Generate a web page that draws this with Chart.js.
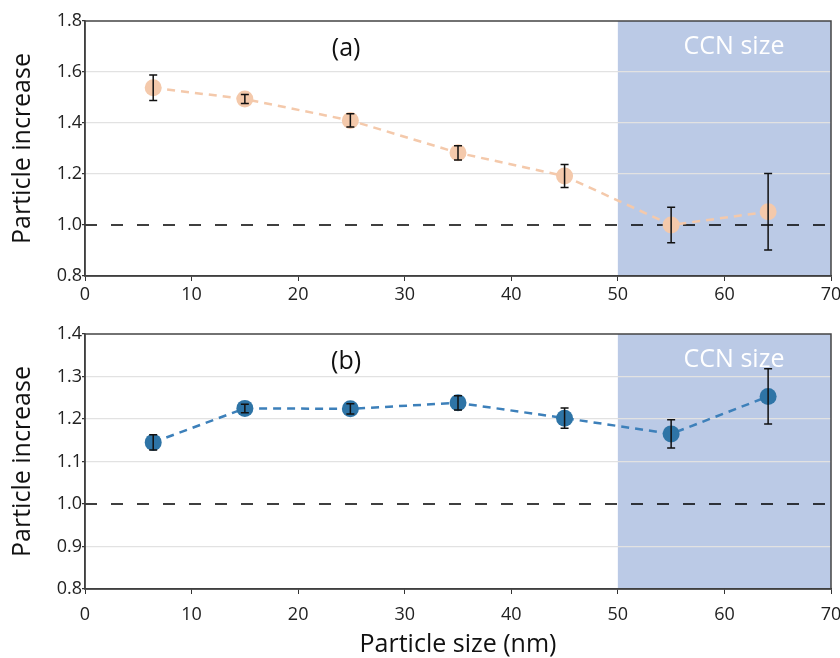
<!DOCTYPE html>
<html>
<head>
<meta charset="utf-8">
<script src="https://cdn.jsdelivr.net/npm/chart.js@4.4.1/dist/chart.umd.min.js"></script>
<style>
  html, body { margin: 0; padding: 0; background: #fff; }
  #wrap { position: relative; width: 840px; height: 658px; }
  #chartA { position: absolute; left: 0; top: 0; }
  #chartB { position: absolute; left: 0; top: 312px; }
</style>
</head>
<body>
<div id="wrap">
  <canvas id="chartA" width="840" height="312"></canvas>
  <canvas id="chartB" width="840" height="346"></canvas>
</div>
<script>
// particle size (nm)
const sizes = [6.4, 15, 24.9, 35, 45, 55, 64.1];

// (a) particle increase and error
const increaseA = [1.538, 1.494, 1.410, 1.283, 1.192, 1.000, 1.052];
const errorA    = [0.050, 0.018, 0.026, 0.028, 0.045, 0.070, 0.150];

// (b) particle increase and error
const increaseB = [1.145, 1.225, 1.224, 1.238, 1.202, 1.165, 1.253];
const errorB    = [0.018, 0.010, 0.012, 0.017, 0.024, 0.033, 0.065];

const xRange = [0, 70];
const yRangeA = [0.8, 1.8];
const yRangeB = [0.8, 1.4];
const ccnRange = [50, 70];
const refValue = 1.0;

const FONT = "'Open Sans', 'DejaVu Sans', sans-serif";

// shaded CCN band, drawn under the grid
const ccnBand = {
  id: 'ccnBand',
  beforeDraw(chart) {
    const { ctx, chartArea, scales } = chart;
    const x0 = scales.x.getPixelForValue(ccnRange[0]);
    const x1 = scales.x.getPixelForValue(ccnRange[1]);
    ctx.save();
    ctx.fillStyle = '#bbcae6';
    ctx.fillRect(x0, chartArea.top, x1 - x0, chartArea.bottom - chartArea.top);
    ctx.restore();
  }
};

// panel letter and "CCN size" text
const panelText = {
  id: 'panelText',
  beforeDatasetsDraw(chart, args, opts) {
    const { ctx, scales } = chart;
    ctx.save();
    ctx.font = '25px ' + FONT;
    ctx.textAlign = 'center';
    ctx.textBaseline = 'middle';
    ctx.fillStyle = '#111';
    ctx.fillText(opts.letter, scales.x.getPixelForValue(opts.letterX), scales.y.getPixelForValue(opts.letterY));
    ctx.fillStyle = '#fff';
    ctx.fillText('CCN size', scales.x.getPixelForValue(opts.ccnX), scales.y.getPixelForValue(opts.ccnY));
    ctx.restore();
  }
};

// error bars on top of the markers
const errorBars = {
  id: 'errorBars',
  afterDatasetsDraw(chart, args, opts) {
    const { ctx, scales } = chart;
    const errs = opts.errors;
    ctx.save();
    ctx.strokeStyle = '#111';
    ctx.lineWidth = 1.5;
    chart.data.datasets[0].data.forEach((p, i) => {
      const x = scales.x.getPixelForValue(p.x);
      const yt = scales.y.getPixelForValue(p.y + errs[i]);
      const yb = scales.y.getPixelForValue(p.y - errs[i]);
      ctx.beginPath();
      ctx.moveTo(x, yt); ctx.lineTo(x, yb);
      ctx.moveTo(x - 4, yt); ctx.lineTo(x + 4, yt);
      ctx.moveTo(x - 4, yb); ctx.lineTo(x + 4, yb);
      ctx.stroke();
    });
    ctx.restore();
  }
};

// frame round the plot area
const frame = {
  id: 'frame',
  afterDraw(chart) {
    const { ctx, chartArea } = chart;
    ctx.save();
    ctx.strokeStyle = '#444';
    ctx.lineWidth = 1.5;
    ctx.strokeRect(chartArea.left, chartArea.top, chartArea.right - chartArea.left, chartArea.bottom - chartArea.top);
    ctx.restore();
  }
};

function makeChart(id, values, errs, yRange, yStep, pointColor, lineColor, opt) {
  const series = sizes.map((s, i) => ({ x: s, y: values[i] }));
  const refLine = xRange.map(x => ({ x: x, y: refValue }));
  const hidden = [yRange[0], yRange[1], refValue];

  return new Chart(document.getElementById(id), {
    type: 'line',
    data: {
      datasets: [{
        data: series,
        borderColor: lineColor,
        borderWidth: 2.5,
        borderDash: [8, 6],
        pointRadius: 8.5,
        pointBackgroundColor: pointColor,
        pointBorderWidth: 0,
        fill: false
      }, {
        data: refLine,
        borderColor: '#000',
        borderWidth: 1.5,
        borderDash: [12, 14],
        pointRadius: 0,
        fill: false
      }]
    },
    plugins: [ccnBand, panelText, errorBars, frame],
    options: {
      responsive: false,
      animation: false,
      layout: { padding: { top: opt.padTop, right: 9, left: 0, bottom: 0 } },
      plugins: {
        legend: { display: false },
        tooltip: { enabled: false },
        errorBars: { errors: errs },
        panelText: opt.text
      },
      scales: {
        x: {
          type: 'linear',
          min: xRange[0],
          max: xRange[1],
          afterFit: s => { s.height = opt.xHeight; s.paddingLeft = 0; s.paddingRight = 0; },
          ticks: {
            stepSize: 10,
            padding: opt.xTickPad,
            color: '#222',
            font: { family: FONT, size: 18 }
          },
          grid: { drawOnChartArea: false, drawTicks: true, tickLength: 5, tickColor: '#333' },
          border: { color: '#333', width: 1.5 },
          title: {
            display: opt.xTitle,
            text: 'Particle size (nm)',
            color: '#111',
            font: { family: FONT, size: 25, lineHeight: 1 },
            padding: { top: 0, bottom: 1 }
          }
        },
        y: {
          min: yRange[0],
          max: yRange[1],
          afterFit: s => { s.width = 85; s.paddingTop = 0; s.paddingBottom = 0; },
          ticks: {
            stepSize: yStep,
            padding: 0,
            color: '#222',
            font: { family: FONT, size: 18 },
            callback: v => v.toFixed(1)
          },
          grid: {
            color: c => hidden.some(h => Math.abs(c.tick.value - h) < 1e-6) ? 'rgba(0,0,0,0)' : '#e2e2e2',
            lineWidth: 1.2,
            tickLength: 3,
            tickColor: '#333'
          },
          border: { color: '#333', width: 1.5 },
          title: {
            display: true,
            text: 'Particle increase',
            color: '#111',
            font: { family: FONT, size: 25, lineHeight: 1.2 },
            padding: { top: 8, bottom: 0 }
          }
        }
      }
    }
  });
}

makeChart('chartA', increaseA, errorA, yRangeA, 0.2, '#f4c9ab', '#f4c9ab', {
  padTop: 21, xHeight: 36, xTickPad: 3, xTitle: false,
  text: { letter: '(a)', letterX: 24.5, letterY: 1.69, ccnX: 60.9, ccnY: 1.70 }
});

makeChart('chartB', increaseB, errorB, yRangeB, 0.1, '#2e74a6', '#3d80ba', {
  padTop: 22, xHeight: 69, xTickPad: 10, xTitle: true,
  text: { letter: '(b)', letterX: 24.5, letterY: 1.335, ccnX: 60.9, ccnY: 1.339 }
});
</script>
</body>
</html>
